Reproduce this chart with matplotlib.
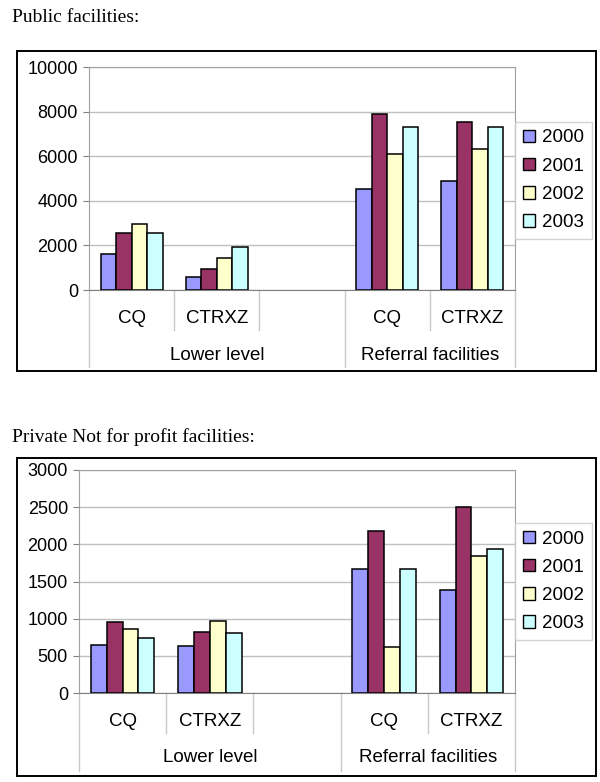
import matplotlib
matplotlib.use("AGG")
import matplotlib.pyplot as plt
from matplotlib.patches import Rectangle, Patch
import numpy as np

# data
years = ['2000', '2001', '2002', '2003']
colors = ['#9999FF', '#993366', '#FFFFCC', '#CCFFFF']
groups = ['Lower level', 'Referral facilities']
sub_cats = [['CQ', 'CTRXZ', ''], ['CQ', 'CTRXZ']]

# values per year, slots: CQ, CTRXZ, (empty), CQ, CTRXZ
public_vals = [
    [1600, 570, np.nan, 4520, 4900],
    [2560, 950, np.nan, 7880, 7550],
    [2960, 1430, np.nan, 6080, 6320],
    [2560, 1930, np.nan, 7330, 7330],
]
private_vals = [
    [650, 630, np.nan, 1665, 1390],
    [955, 825, np.nan, 2180, 2505],
    [860, 965, np.nan, 615, 1840],
    [745, 810, np.nan, 1665, 1940],
]

W, H = 600, 782
fig = plt.figure(figsize=(W / 100, H / 100), dpi=100)

def px_rect(l, t, r, b):
    return [l / W, 1 - b / H, (r - l) / W, (b - t) / H]

def draw_chart(title, title_y, box, plot, vals, ymax, ystep, legend_box, sub_y, grp_y, short_y, long_y):
    fig.text(12 / W, 1 - title_y / H, title, family='Liberation Serif', fontsize=14, va='center')
    l, t, r, b = box
    fig.add_artist(Rectangle((l / W, 1 - b / H), (r - l) / W, (b - t) / H, transform=fig.transFigure,
                             fill=False, edgecolor='black', linewidth=1.4))
    ax = fig.add_axes(px_rect(*plot))
    nslots = len(vals[0])
    x = np.arange(nslots)
    bw = 1 / 5.5
    for i, (yr, c) in enumerate(zip(years, colors)):
        ax.bar(x + (i - 1.5) * bw, vals[i], bw, color=c, edgecolor='black', linewidth=1.1,
               label=yr, zorder=3)
    ax.set_xlim(-0.5, nslots - 0.5)
    ax.set_ylim(0, ymax)
    ax.set_yticks(np.arange(0, ymax + 1, ystep))
    ax.yaxis.grid(True, color='#c0c0c0', linewidth=1)
    ax.set_axisbelow(True)
    for s in ['top', 'right', 'left']:
        ax.spines[s].set_color('#a0a0a0')
    ax.spines['bottom'].set_color('#808080')
    ax.tick_params(axis='y', labelsize=13, length=4, color='#808080', pad=4)
    ax.tick_params(axis='x', length=0, labelbottom=False)
    for lab in ax.get_yticklabels():
        lab.set_family('Liberation Sans')

    # multi-level category axis
    trans = ax.get_xaxis_transform()
    ph = plot[3] - plot[1]
    sy = lambda yp: -(yp - plot[3]) / ph
    pos = 0
    bounds = [-0.5]
    for g, cats in zip(groups, sub_cats):
        for j, c in enumerate(cats):
            ax.text(pos + j, sy(sub_y), c, transform=trans, ha='center', va='center',
                    fontsize=13.5, family='Liberation Sans')
            if j < len(cats) - 1:
                ax.plot([pos + j + 0.5] * 2, [0, sy(short_y)], transform=trans, color='#c8c8c8',
                        linewidth=1, clip_on=False)
        ax.text(pos + (len(cats) - 1) / 2, sy(grp_y), g, transform=trans, ha='center', va='center',
                fontsize=13.5, family='Liberation Sans')
        pos += len(cats)
        bounds.append(pos - 0.5)
    for bx in bounds:
        ax.plot([bx] * 2, [0, sy(long_y)], transform=trans, color='#c8c8c8', linewidth=1, clip_on=False)

    ll, lt, lr, lb = legend_box
    leg = fig.legend(handles=[Patch(facecolor=c, edgecolor='black', label=y) for y, c in zip(years, colors)],
                     loc='upper left', bbox_to_anchor=(ll / W, 1 - lt / H), bbox_transform=fig.transFigure,
                     prop={'family': 'Liberation Sans', 'size': 13.5}, frameon=True, fancybox=False,
                     handlelength=0.65, handleheight=0.65, handletextpad=0.4, labelspacing=0.6,
                     borderpad=0.4, borderaxespad=0)
    leg.get_frame().set_edgecolor('#c8c8c8')
    leg.get_frame().set_linewidth(1)

draw_chart('Public facilities:', 17, (17, 51, 596, 371), (89, 67, 515, 290), public_vals,
           10000, 2000, (515, 122, 590, 237), 318, 355, 330, 367)
draw_chart('Private Not for profit facilities:', 437, (17, 458, 596, 776), (79, 470, 515, 693), private_vals,
           3000, 500, (515, 523, 590, 639), 722, 758, 733, 771)

plt.savefig('out.png', dpi=100)
